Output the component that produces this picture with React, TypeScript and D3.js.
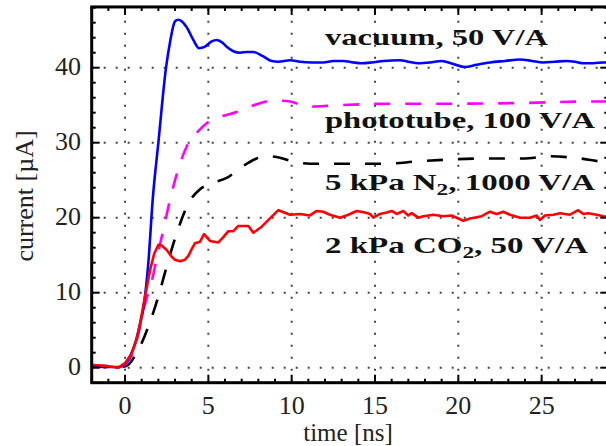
import React from "react";
import * as d3 from "d3";

const W = 606;
const H = 446;

const xTicks = [0, 5, 10, 15, 20, 25];
const yTicks = [0, 10, 20, 30, 40];
const xDomain: [number, number] = [-2, 29];
const yDomain: [number, number] = [-2, 48.1];

const vacuumT = [-2, -1, -0.3, 0, 0.3, 0.6, 0.9, 1.1, 1.4, 1.66, 2.0, 2.46, 2.7, 3.0, 3.2, 3.4, 3.7, 4.1, 4.44, 4.8, 5.2, 5.5, 5.8, 6.1, 6.5, 6.9, 7.3, 7.7, 8.3, 8.8, 9.2, 9.9, 10.5, 11.2, 11.9, 12.5, 13.1, 13.7, 14.2, 14.8, 15.5, 16.5, 17.0, 17.6, 18.3, 19.0, 19.7, 20.4, 21.1, 21.9, 22.8, 23.7, 24.4, 25.1, 25.8, 26.5, 27.0, 27.5, 28.1, 28.7, 29];
const vacuumV = [0.2, 0.1, 0.1, 0.5, 1.5, 3.2, 5.8, 7.9, 14, 22.4, 30, 40, 43.4, 46.2, 46.4, 46.2, 45.4, 43.7, 42.6, 42.8, 43.5, 43.7, 43.4, 42.8, 42.2, 42.0, 42.1, 42.1, 41.5, 40.9, 40.8, 41.0, 40.8, 40.7, 40.7, 40.9, 40.9, 40.7, 40.6, 40.7, 40.9, 41.0, 40.8, 40.6, 40.7, 40.9, 40.5, 40.1, 40.4, 40.7, 40.9, 41.1, 40.9, 40.7, 40.8, 40.9, 40.8, 40.6, 40.6, 40.7, 40.7];

const phototubeT = [-2, -0.3, 0, 0.4, 0.8, 1.2, 1.6, 1.9, 2.3, 2.7, 3.0, 3.3, 3.7, 4.3, 4.9, 5.5, 6.1, 6.7, 7.5, 8.0, 8.5, 9.3, 9.9, 10.5, 11.1, 12, 12.9, 15.9, 19.9, 23.9, 27.9, 29];
const phototubeV = [0.1, 0.1, 0.4, 1.6, 4.5, 8.5, 11.5, 14.5, 18.4, 22.4, 25, 27.2, 29.5, 31.3, 32.6, 33.3, 33.7, 34.1, 34.8, 35.2, 35.5, 35.6, 35.5, 35.1, 34.8, 34.9, 35.0, 35.2, 35.2, 35.3, 35.5, 35.5];

const n2T = [-2, -1, -0.2, 0.2, 0.6, 1.0, 1.4, 2.0, 2.5, 3.1, 3.8, 4.5, 5.2, 6.1, 6.9, 7.8, 8.4, 9.1, 9.9, 11.1, 13.3, 15.7, 17.5, 19.9, 21.9, 23.9, 25.5, 27.3, 28.7, 29];
const n2V = [0.3, 0.2, 0.1, 0.4, 1.6, 3.3, 5.5, 9.5, 13.5, 17.9, 21.9, 23.8, 24.6, 25.3, 26.6, 27.8, 28.2, 28.1, 27.6, 27.2, 27.2, 27.2, 27.5, 27.8, 27.9, 27.9, 28.2, 27.9, 27.5, 27.5];

const co2T = [-2, -1.5, -1, -0.4, 0, 0.4, 0.7, 0.9, 1.2, 1.5, 1.75, 2.0, 2.2, 2.5, 2.8, 3.0, 3.3, 3.6, 3.8, 4.0, 4.2, 4.5, 4.74, 5.1, 5.6, 5.9, 6.2, 6.5, 6.8, 7.4, 7.7, 8.2, 8.7, 9.2, 9.9, 10.5, 11.1, 11.5, 11.9, 12.3, 12.9, 13.4, 13.9, 14.4, 14.7, 14.9, 15.3, 15.7, 16.0, 16.3, 16.7, 17.0, 17.2, 17.6, 17.9, 18.5, 19.1, 19.6, 19.9, 20.3, 20.7, 21.4, 21.9, 22.3, 22.7, 23.1, 23.7, 24.3, 24.7, 24.9, 25.2, 25.7, 26.1, 26.7, 27.2, 27.5, 27.8, 28.3, 28.7, 29];
const co2V = [0.4, 0.3, 0.2, 0.0, 0.6, 1.9, 3.8, 5.9, 9.5, 13, 15.2, 16.4, 16.3, 15.7, 14.8, 14.4, 14.2, 14.4, 14.9, 15.8, 16.6, 16.8, 17.8, 16.9, 16.7, 17.4, 18.2, 18.2, 18.9, 18.9, 18.0, 18.8, 19.9, 21.0, 20.4, 20.5, 20.3, 20.9, 20.8, 20.4, 20.0, 20.4, 20.9, 20.7, 20.5, 20.0, 20.5, 20.7, 20.9, 20.5, 20.9, 20.3, 20.6, 20.0, 20.2, 20.4, 20.2, 20.3, 20.0, 19.6, 19.9, 20.2, 20.8, 20.5, 20.8, 20.4, 20.0, 20.0, 20.3, 19.7, 20.3, 20.4, 20.6, 20.4, 21.0, 20.5, 20.6, 20.4, 20.2, 20.1];

const labels = ["vacuum, 50 V/A", "phototube, 100 V/A", "5 kPa N₂, 1000 V/A", "2 kPa CO₂, 50 V/A"];

const left = 91.7;
const right = 608.3;
const top = 6.95;
const bottom = 382.7;

const x = d3.scaleLinear().domain(xDomain).range([left, right]);
const y = d3.scaleLinear().domain(yDomain).range([bottom, top]);

function pts(t: number[], v: number[]): [number, number][] {
  return t.map((tt, i) => [tt, v[i]]);
}

const smooth = d3.line<[number, number]>().x((d) => x(d[0])).y((d) => y(d[1])).curve(d3.curveMonotoneX);
const lin = d3.line<[number, number]>().x((d) => x(d[0])).y((d) => y(d[1]));

const serif = "'Liberation Serif', 'DejaVu Serif', serif";

function Label({ text, x0, y0, width }: { text: string; x0: number; y0: number; width: number }) {
  const m = text.match(/^(.*?)([₂])(.*)$/);
  const common = {
    x: x0,
    y: y0,
    fontFamily: serif,
    fontWeight: 700,
    fontSize: 24,
    fill: "#111",
    textLength: width,
    lengthAdjust: "spacingAndGlyphs" as const,
  };
  if (!m) return <text {...common}>{text}</text>;
  return (
    <text {...common}>
      <tspan>{m[1]}</tspan>
      <tspan fontSize={17} dy={5}>2</tspan>
      <tspan dy={-5}>{m[3]}</tspan>
    </text>
  );
}

export default function App() {
  const xMinor = d3.range(-2, 30, 1);
  const yMinor = d3.range(-2, 49, 2);
  return (
    <svg width={W} height={H} style={{ position: "absolute", left: 0, top: 0, background: "#fff" }}>
      <defs>
        <clipPath id="plot">
          <rect x={left} y={top} width={right - left} height={bottom - top} />
        </clipPath>
      </defs>
      <rect x={0} y={0} width={W} height={H} fill="#fff" />
      <g stroke="#444" strokeWidth={2} strokeDasharray="2 10">
        {xTicks.map((t) => (
          <line key={"gx" + t} x1={x(t)} x2={x(t)} y1={bottom} y2={top} />
        ))}
        {yTicks.map((t) => (
          <line key={"gy" + t} x1={left} x2={right} y1={y(t)} y2={y(t)} />
        ))}
      </g>
      <g clipPath="url(#plot)" fill="none" strokeWidth={2.6} strokeLinejoin="round">
        <path d={smooth(pts(n2T, n2V)) || ""} stroke="#000" strokeDasharray="16 15" />
        <path d={smooth(pts(phototubeT, phototubeV)) || ""} stroke="#ff00ff" strokeDasharray="16 15" />
        <path d={smooth(pts(vacuumT, vacuumV)) || ""} stroke="#0000ff" />
        <path d={lin(pts(co2T, co2V)) || ""} stroke="#ff0000" />
      </g>
      <g stroke="#000" strokeWidth={2}>
        {xMinor.map((t) => {
          const major = xTicks.includes(t);
          const L = major ? 8 : 4;
          return (
            <g key={"xt" + t}>
              <line x1={x(t)} x2={x(t)} y1={bottom} y2={bottom - L} />
              <line x1={x(t)} x2={x(t)} y1={top} y2={top + L} />
            </g>
          );
        })}
        {yMinor.map((t) => {
          const major = yTicks.includes(t);
          const L = major ? 8 : 4;
          return (
            <g key={"yt" + t}>
              <line x1={left} x2={left + L} y1={y(t)} y2={y(t)} />
              <line x1={right} x2={right - L} y1={y(t)} y2={y(t)} />
            </g>
          );
        })}
      </g>
      <rect x={left} y={top} width={right - left} height={bottom - top} fill="none" stroke="#000" strokeWidth={3} />
      <g fontFamily={serif} fontSize={26} fill="#222">
        {xTicks.map((t) => (
          <text key={"xl" + t} x={x(t)} y={414} textAnchor="middle">{t}</text>
        ))}
        {yTicks.map((t) => (
          <text key={"yl" + t} x={81} y={y(t) + 7} textAnchor="end">{t}</text>
        ))}
        <text x={348} y={441} fontSize={25} textAnchor="middle">time [ns]</text>
        <text transform={`translate(33,196) rotate(-90)`} textAnchor="middle">current [µA]</text>
      </g>
      <Label text={labels[0]} x0={325} y0={45} width={223} />
      <Label text={labels[1]} x0={325} y0={128} width={270} />
      <Label text={labels[2]} x0={325} y0={190} width={270} />
      <Label text={labels[3]} x0={325} y0={253} width={263} />
    </svg>
  );
}
